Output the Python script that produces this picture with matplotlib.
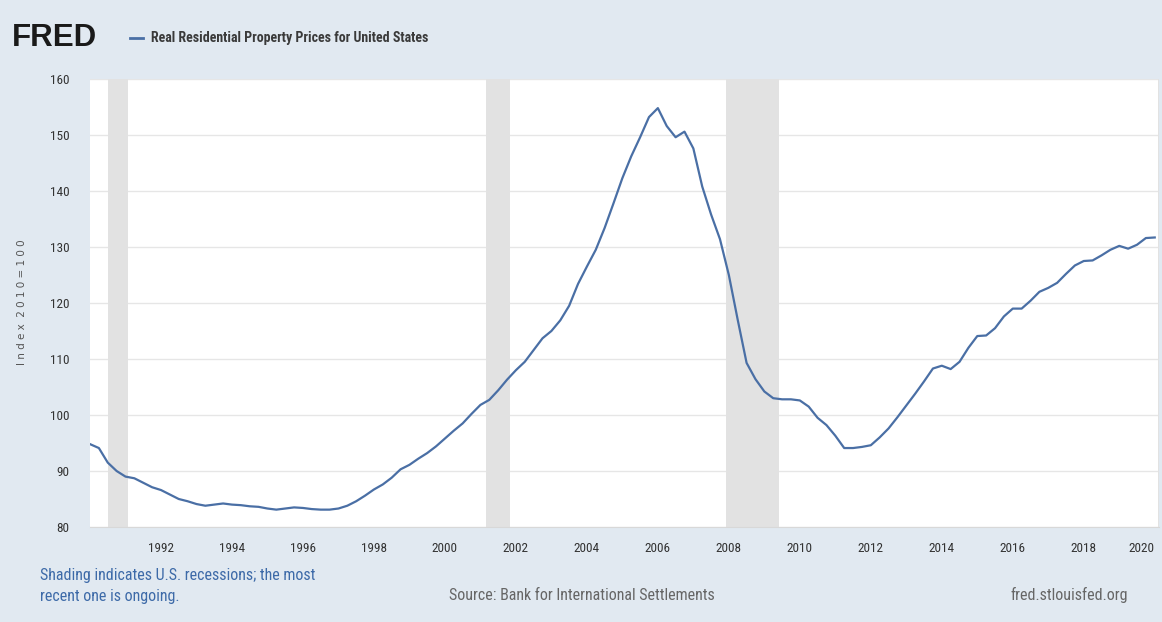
import numpy as np
import matplotlib
matplotlib.use("Agg")
import matplotlib.pyplot as plt

# quarterly observations, 1990 Q1 .. 2020 Q1 (index 2010=100)
start_year = 1990
prices = [
    94.8, 94.1, 91.5, 90.0,      # 1990
    89.0, 88.7, 87.9, 87.1,      # 1991
    86.6, 85.8, 85.0, 84.6,      # 1992
    84.1, 83.8, 84.0, 84.2,      # 1993
    84.0, 83.9, 83.7, 83.6,      # 1994
    83.3, 83.1, 83.3, 83.5,      # 1995
    83.4, 83.2, 83.1, 83.1,      # 1996
    83.3, 83.8, 84.6, 85.6,      # 1997
    86.7, 87.6, 88.8, 90.3,      # 1998
    91.1, 92.2, 93.2, 94.4,      # 1999
    95.8, 97.2, 98.5, 100.2,     # 2000
    101.8, 102.7, 104.4, 106.3,  # 2001
    108.0, 109.5, 111.6, 113.7,  # 2002
    115.0, 116.9, 119.5, 123.4,  # 2003
    126.5, 129.5, 133.4, 137.8,  # 2004
    142.3, 146.2, 149.6, 153.2,  # 2005
    154.8, 151.6, 149.6, 150.6,  # 2006
    147.6, 140.8, 135.8, 131.4,  # 2007
    125.0, 117.0, 109.3, 106.4,  # 2008
    104.2, 103.0, 102.8, 102.8,  # 2009
    102.6, 101.5, 99.5, 98.2,    # 2010
    96.3, 94.1, 94.1, 94.3,      # 2011
    94.6, 96.0, 97.6, 99.6,      # 2012
    101.7, 103.8, 106.0, 108.3,  # 2013
    108.8, 108.2, 109.5, 112.0,  # 2014
    114.1, 114.2, 115.5, 117.6,  # 2015
    119.0, 119.0, 120.4, 122.0,  # 2016
    122.7, 123.6, 125.2, 126.7,  # 2017
    127.5, 127.6, 128.5, 129.5,  # 2018
    130.2, 129.7, 130.4, 131.6,  # 2019
    131.7,                       # 2020
]

# NBER recessions (start, end) as decimal years
recessions = [(1990.5, 1991.08), (2001.17, 2001.83), (2007.92, 2009.42), (2020.08, 2020.3)]

x_ticks = list(range(1992, 2021, 2))
y_ticks = list(range(80, 161, 10))

BG = "#e1e9f1"
LINE = "#4a6fa5"
NARROW = ["Roboto Condensed", "DejaVu Sans"]

dates = start_year + np.arange(len(prices)) / 4.0

fig = plt.figure(figsize=(11.62, 6.22), dpi=100, facecolor=BG)
ax = fig.add_axes([90 / 1162, 1 - 527 / 622, 1069 / 1162, 448 / 622])
ax.set_facecolor("white")

for r0, r1 in recessions:
    ax.axvspan(r0, r1, color="#e2e2e2", lw=0, zorder=1)

ax.plot(dates, prices, color=LINE, lw=1.6, zorder=3)

ax.set_xlim(1990, 2020.12)
ax.set_ylim(80, 160)
ax.set_yticks(y_ticks)
ax.set_xticks(x_ticks)
ax.grid(axis="y", color="#e6e6e6", lw=1, zorder=0)
ax.set_axisbelow(True)
for side in ["top", "right", "left"]:
    ax.spines[side].set_visible(False)
ax.spines["bottom"].set_color("#d8d8d8")
ax.tick_params(length=0, colors="#333333")
ax.tick_params(axis="y", pad=15)
ax.tick_params(axis="x", pad=11)
for lab in ax.get_xticklabels() + ax.get_yticklabels():
    lab.set_family(NARROW)
    lab.set_fontsize(9.5)

# the last label sits inside the plot edge, as on the FRED chart
ax.get_xticklabels()[-1].set_horizontalalignment("right")

fig.text(22 / 1162, 1 - 302 / 622, "I n d e x  2 0 1 0 = 1 0 0", rotation=90,
         ha="center", va="center", fontsize=7.5, color="#555555")

# header
fig.text(12 / 1162, 1 - 38 / 622, "FRED", family="Liberation Sans", fontsize=22.5,
         fontweight="bold", color="#1a1a1a", va="center", ha="left")
fig.lines.append(plt.Line2D([130 / 1162, 143 / 1162], [1 - 38 / 622, 1 - 38 / 622],
                            transform=fig.transFigure, color=LINE, lw=2))
fig.text(151 / 1162, 1 - 38 / 622, "Real Residential Property Prices for United States",
         family=NARROW, fontsize=10, fontweight="bold", color="#3a3a3a", va="center")

# footer
fig.text(40 / 1162, 1 - 586 / 622, "Shading indicates U.S. recessions; the most\nrecent one is ongoing.",
         family=NARROW, fontsize=11.5, color="#3d6aa8", va="center", ha="left", linespacing=1.45)
fig.text(582 / 1162, 1 - 595 / 622, "Source: Bank for International Settlements",
         family=NARROW, fontsize=11.5, color="#666666", va="center", ha="center")
fig.text(1128 / 1162, 1 - 595 / 622, "fred.stlouisfed.org",
         family=NARROW, fontsize=11.5, color="#666666", va="center", ha="right")

fig.savefig("out.png", dpi=100, facecolor=BG)
